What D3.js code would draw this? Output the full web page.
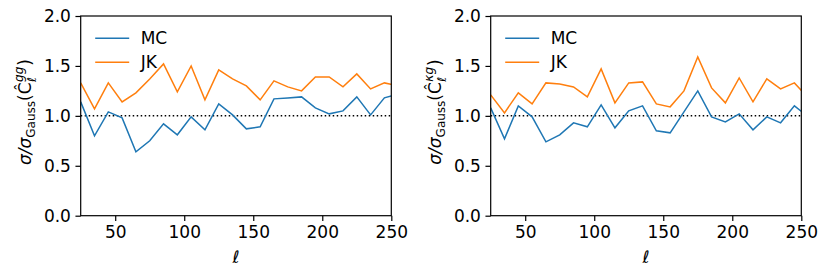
<!DOCTYPE html>
<html>
<head>
<meta charset="utf-8" />
<title></title>
<style>
html, body { margin: 0; padding: 0; background: #fff; }
svg { display: block; font-family: "DejaVu Sans", sans-serif; }
</style>
</head>
<body>
<div id="chart"></div>
<script src="https://cdnjs.cloudflare.com/ajax/libs/d3/7.8.5/d3.min.js"></script>
<script>
// multipoles (last one sits past xlim and gets clipped)
var ell = [25, 35, 45, 55, 65, 75, 85, 95, 105, 115, 125, 135, 145, 155, 165, 175, 185, 195, 205, 215, 225, 235, 245, 255]

// left panel, C_ell^gg
var mcGG = [1.14, 0.80, 1.04, 0.98, 0.64, 0.75, 0.92, 0.81, 0.99, 0.86, 1.12, 1.01, 0.87, 0.89, 1.17, 1.18, 1.19, 1.08, 1.02, 1.05, 1.19, 1.01, 1.18, 1.22]
var jkGG = [1.33, 1.07, 1.33, 1.14, 1.23, 1.37, 1.52, 1.24, 1.50, 1.16, 1.46, 1.37, 1.30, 1.16, 1.35, 1.29, 1.25, 1.39, 1.39, 1.29, 1.42, 1.27, 1.33, 1.30]

// right panel, C_ell^kg
var mcKG = [1.08, 0.77, 1.10, 0.99, 0.74, 0.81, 0.93, 0.89, 1.11, 0.88, 1.05, 1.10, 0.85, 0.83, 1.04, 1.25, 0.99, 0.94, 1.02, 0.86, 0.99, 0.93, 1.10, 0.99]
var jkKG = [1.21, 1.03, 1.23, 1.12, 1.33, 1.32, 1.29, 1.19, 1.47, 1.13, 1.33, 1.34, 1.12, 1.09, 1.25, 1.59, 1.28, 1.13, 1.38, 1.14, 1.37, 1.27, 1.33, 1.18]

var xTicks = [50, 100, 150, 200, 250]
var yTicks = [0.0, 0.5, 1.0, 1.5, 2.0]
var seriesNames = ["MC", "JK"]
var colors = ["#1f77b4", "#ff7f0e"]

var W = 830, H = 277
var FS = 17

var svg = d3.select("#chart").append("svg")
    .attr("width", W)
    .attr("height", H)

var panels = [
    {left: 80.7, sup: "gg", mc: mcGG, jk: jkGG, labelX: 31},
    {left: 490.7, sup: "\u03bag", mc: mcKG, jk: jkKG, labelX: 441}
]

panels.forEach(function(p, i) {
    var x = d3.scaleLinear().domain([25, 250]).range([p.left, p.left + 310.6])
    var y = d3.scaleLinear().domain([0, 2]).range([215.7, 16])

    var g = svg.append("g")

    g.append("clipPath").attr("id", "clip" + i)
        .append("rect")
        .attr("x", x(25)).attr("y", y(2))
        .attr("width", x(250) - x(25)).attr("height", y(0) - y(2))

    // dotted reference at 1
    g.append("line")
        .attr("x1", x(25)).attr("x2", x(250))
        .attr("y1", y(1)).attr("y2", y(1))
        .attr("stroke", "#000")
        .attr("stroke-width", 1.5)
        .attr("stroke-dasharray", "1.5,2.5")

    var line = d3.line()
        .x(function(d, j) { return x(ell[j]) })
        .y(function(d) { return y(d) })

    ;[p.mc, p.jk].forEach(function(vals, k) {
        g.append("path")
            .attr("d", line(vals))
            .attr("fill", "none")
            .attr("stroke", colors[k])
            .attr("stroke-width", 1.5)
            .attr("clip-path", "url(#clip" + i + ")")
    })

    // axes
    var xAxis = d3.axisBottom(x).tickValues(xTicks).tickSize(5.25).tickPadding(4.5).tickFormat(d3.format("d"))
    var yAxis = d3.axisLeft(y).tickValues(yTicks).tickSize(5.25).tickPadding(4.5).tickFormat(d3.format(".1f"))

    var gx = g.append("g").attr("transform", "translate(0," + y(0) + ")").call(xAxis)
    var gy = g.append("g").attr("transform", "translate(" + x(25) + ",0)").call(yAxis)
    ;[gx, gy].forEach(function(a) {
        a.select(".domain").remove()
        a.selectAll("line").attr("stroke", "#000").attr("stroke-width", 1.2)
        a.selectAll("text").attr("fill", "#000").style("font-size", FS + "px").style("font-family", "DejaVu Sans")
    })

    // frame
    g.append("rect")
        .attr("x", x(25)).attr("y", y(2))
        .attr("width", x(250) - x(25)).attr("height", y(0) - y(2))
        .attr("fill", "none")
        .attr("stroke", "#000")
        .attr("stroke-width", 1.2)

    // legend
    seriesNames.forEach(function(name, k) {
        var ly = 38.3 + k * 24
        g.append("line")
            .attr("x1", p.left + 14.5).attr("x2", p.left + 48.5)
            .attr("y1", ly).attr("y2", ly)
            .attr("stroke", colors[k]).attr("stroke-width", 1.5)
        g.append("text")
            .attr("x", p.left + 60).attr("y", ly + 6)
            .style("font-size", FS + "px")
            .text(name)
    })

    // x label
    g.append("text")
        .attr("x", (x(25) + x(250)) / 2)
        .attr("y", 263)
        .attr("text-anchor", "middle")
        .style("font-size", FS + "px")
        .style("font-style", "italic")
        .text("\u2113")

    // y label, built piece by piece so the sub/superscripts stack
    var lab = g.append("g")
    var cx = 0
    function piece(t, size, dy, italic) {
        var el = lab.append("text")
            .attr("x", cx).attr("y", dy)
            .style("font-size", size + "px")
            .style("font-style", italic ? "italic" : "normal")
            .text(t)
        return el.node().getComputedTextLength()
    }
    cx += piece("\u03c3/\u03c3", FS, 0, true)
    cx += piece("Gauss", 12, 4, false)
    cx += piece("(", FS, 0, false)
    cx += piece("\u0108", FS, 0, false) + 0.5
    var wSup = piece(p.sup, 12, -8.5, true)
    var wSub = piece("\u2113", 12, 5, true)
    cx += Math.max(wSup, wSub) + 1
    cx += piece(")", FS, 0, false)
    lab.attr("transform", "translate(" + p.labelX + "," + (112 + cx / 2) + ") rotate(-90)")
})
</script>
</body>
</html>
